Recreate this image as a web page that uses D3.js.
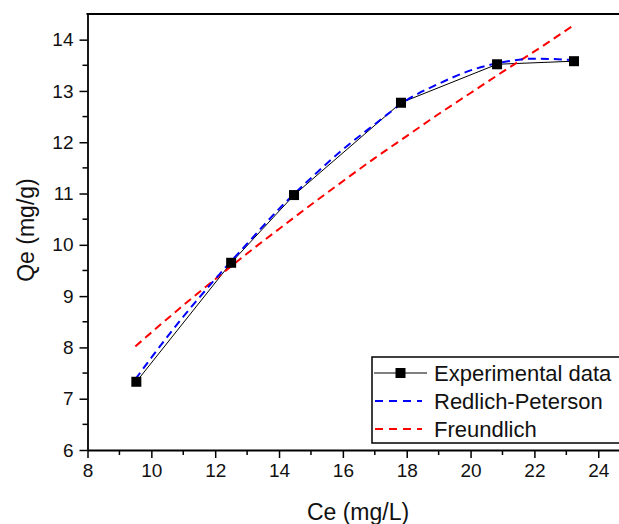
<!DOCTYPE html>
<html>
<head>
<meta charset="utf-8">
<script src="https://cdn.jsdelivr.net/npm/d3@7"></script>
<style>
  body { margin: 0; background: #fff; }
  svg { display: block; font-family: Arial, 'Liberation Sans', sans-serif; }
</style>
</head>
<body>
<svg id="chart" width="619" height="524"></svg>
<script>
'use strict';

// experimental points
const ceData = [ 9.53, 12.5, 14.47, 17.82, 20.83, 23.24 ];
const qeData = [ 7.33, 9.65, 10.97, 12.77, 13.52, 13.58 ];

// Redlich-Peterson fit
const rpCe = [ 9.5, 10, 11, 12, 12.5, 13, 14, 15, 16, 17, 18, 19, 20, 21, 22, 23.25 ];
const rpQe = [ 7.38, 7.8, 8.6, 9.33, 9.68, 10.02, 10.7, 11.3, 11.86, 12.35, 12.82, 13.14, 13.4, 13.56, 13.63, 13.6 ];

// Freundlich fit
const frCe = [ 9.5, 10, 11, 12, 13, 14, 15, 16, 17, 18, 19, 20, 21, 22, 23.2 ];
const frQe = [ 8.02, 8.29, 8.82, 9.33, 9.83, 10.31, 10.78, 11.24, 11.69, 12.12, 12.55, 12.96, 13.37, 13.77, 14.27 ];

const xTicks = [ 8, 10, 12, 14, 16, 18, 20, 22, 24 ];
const yTicks = [ 6, 7, 8, 9, 10, 11, 12, 13, 14 ];
const legendLabels = [ 'Experimental data', 'Redlich-Peterson', 'Freundlich' ];

const param = {
  left: 87.5, right: 619, top: 14, bottom: 450
};

const svg = d3.select('#chart');

const x = d3.scaleLinear().domain([ 8, 24.65 ]).range([ param.left, param.right ]);
const y = d3.scaleLinear().domain([ 6, 14.5 ]).range([ param.bottom, param.top ]);

// minor ticks
const xMinor = d3.range(9, 25, 2),
      yMinor = d3.range(6.5, 14.5, 1);

const axes = svg.append('g').attr('stroke', '#000');

axes.selectAll('.xminor').data(xMinor).enter().append('line')
    .attr('x1', d => x(d)).attr('x2', d => x(d))
    .attr('y1', param.bottom).attr('y2', param.bottom + 5)
    .attr('stroke-width', 1.5);
axes.selectAll('.yminor').data(yMinor).enter().append('line')
    .attr('y1', d => y(d)).attr('y2', d => y(d))
    .attr('x1', param.left).attr('x2', param.left - 5)
    .attr('stroke-width', 1.5);

// x-axis
svg.append('g')
    .attr('transform', 'translate(0,' + param.bottom + ')')
    .call(d3.axisBottom(x).tickValues(xTicks).tickSize(8).tickPadding(6).tickSizeOuter(0))
    .call(g => g.select('.domain').attr('stroke-width', 1.8))
    .call(g => g.selectAll('.tick line').attr('stroke-width', 1.5))
    .call(g => g.selectAll('.tick text').attr('font-size', 19).attr('fill', '#111')
                .attr('font-family', 'Arial, Liberation Sans, sans-serif'));

// y-axis
svg.append('g')
    .attr('transform', 'translate(' + param.left + ',0)')
    .call(d3.axisLeft(y).tickValues(yTicks).tickSize(8).tickPadding(6).tickSizeOuter(0))
    .call(g => g.select('.domain').attr('stroke-width', 1.8))
    .call(g => g.selectAll('.tick line').attr('stroke-width', 1.5))
    .call(g => g.selectAll('.tick text').attr('font-size', 19).attr('fill', '#111')
                .attr('font-family', 'Arial, Liberation Sans, sans-serif'));

// top frame
svg.append('line')
    .attr('x1', param.left - 1).attr('x2', param.right)
    .attr('y1', param.top).attr('y2', param.top)
    .attr('stroke', '#000').attr('stroke-width', 1.8);

// axis titles
svg.append('text')
    .attr('x', 358).attr('y', 520)
    .attr('text-anchor', 'middle')
    .attr('font-size', 23).attr('fill', '#111')
    .text('Ce (mg/L)');
svg.append('text')
    .attr('transform', 'translate(34,230) rotate(-90)')
    .attr('text-anchor', 'middle')
    .attr('font-size', 23).attr('fill', '#111')
    .text('Qe (mg/g)');

const line = d3.line().x(d => x(d[0])).y(d => y(d[1]));
const smooth = d3.line().x(d => x(d[0])).y(d => y(d[1])).curve(d3.curveMonotoneX);

// experimental line
svg.append('path')
    .attr('d', line(d3.zip(ceData, qeData)))
    .attr('fill', 'none').attr('stroke', '#000').attr('stroke-width', 1);

// Freundlich
svg.append('path')
    .attr('d', smooth(d3.zip(frCe, frQe)))
    .attr('fill', 'none').attr('stroke', '#ff0000').attr('stroke-width', 2)
    .attr('stroke-dasharray', '8,5');

// Redlich-Peterson
svg.append('path')
    .attr('d', smooth(d3.zip(rpCe, rpQe)))
    .attr('fill', 'none').attr('stroke', '#0000ff').attr('stroke-width', 2)
    .attr('stroke-dasharray', '8,5');

// markers
svg.selectAll('.marker').data(d3.zip(ceData, qeData)).enter().append('rect')
    .attr('x', d => x(d[0]) - 5).attr('y', d => y(d[1]) - 5)
    .attr('width', 10).attr('height', 10)
    .attr('fill', '#000');

// legend
const lg = svg.append('g').attr('transform', 'translate(372,357)');
lg.append('rect')
    .attr('x', 0).attr('y', 0).attr('width', 260).attr('height', 86)
    .attr('fill', '#fff').attr('stroke', '#000').attr('stroke-width', 1.5);

const rowY = [ 16, 44, 72 ],
      rowColor = [ '#000', '#0000ff', '#ff0000' ];

lg.selectAll('.ltext').data(legendLabels).enter().append('text')
    .attr('x', 62).attr('y', (d, i) => rowY[i] + 8)
    .attr('font-size', 22).attr('fill', '#111')
    .text(d => d);

lg.append('line')
    .attr('x1', 2).attr('x2', 55).attr('y1', rowY[0]).attr('y2', rowY[0])
    .attr('stroke', '#000').attr('stroke-width', 1);
lg.append('rect')
    .attr('x', 23.5).attr('y', rowY[0] - 5).attr('width', 10).attr('height', 10)
    .attr('fill', '#000');
[ 1, 2 ].forEach(i => {
  lg.append('line')
      .attr('x1', 3).attr('x2', 50).attr('y1', rowY[i]).attr('y2', rowY[i])
      .attr('stroke', rowColor[i]).attr('stroke-width', 2)
      .attr('stroke-dasharray', '8,6');
});
</script>
</body>
</html>
